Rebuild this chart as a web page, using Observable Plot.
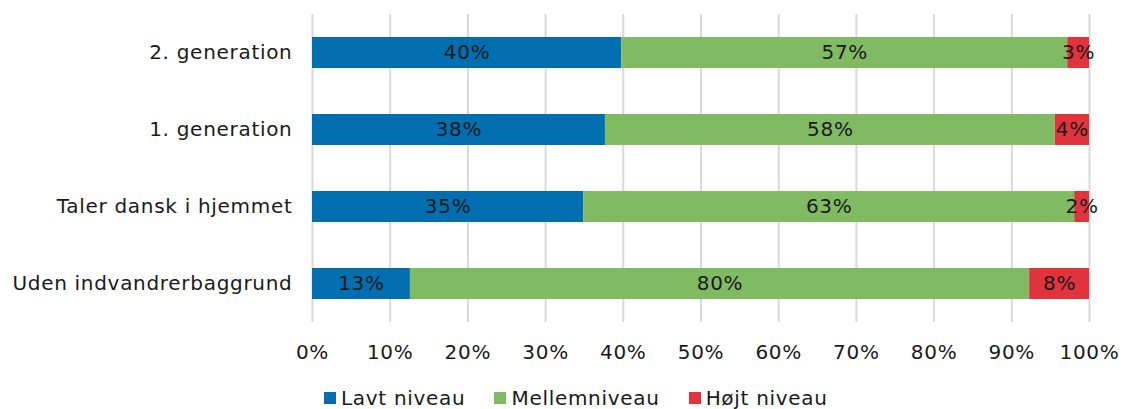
<!DOCTYPE html>
<html>
<head>
<meta charset="utf-8">
<script src="https://cdn.jsdelivr.net/npm/d3@7"></script>
<script src="https://cdn.jsdelivr.net/npm/@observablehq/plot@0.6"></script>
<style>
  html, body { margin: 0; padding: 0; background: #fff; overflow: hidden; }
  body { width: 1123px; height: 409px; font-family: "DejaVu Sans", Verdana, sans-serif; }
  #chart svg text { letter-spacing: 0.7px; }
  #legend { display: flex; margin-left: 324px; margin-top: 6px; font-size: 20px; color: #1a1a1a; line-height: 24px; letter-spacing: 0.7px; }
  #legend .item { display: flex; align-items: center; margin-right: 29px; }
  #legend .sw { width: 12px; height: 12px; margin-right: 5px; }
</style>
</head>
<body>
<div id="chart"></div>
<div id="legend"></div>
<script>
const categories = ["2. generation", "1. generation", "Taler dansk i hjemmet", "Uden indvandrerbaggrund"];
const seriesNames = ["Lavt niveau", "Mellemniveau", "Højt niveau"];
const lavt = [39.8, 37.7, 34.9, 12.6];
const mellem = [57.4, 57.9, 63.2, 79.7];
const hoejt = [2.8, 4.4, 1.9, 7.7];
const xTicks = [0, 10, 20, 30, 40, 50, 60, 70, 80, 90, 100];
const colors = ["#006EAF", "#80BA63", "#E0333C"];

const seriesValues = [lavt, mellem, hoejt];
const data = [];
seriesNames.forEach((s, si) => {
  categories.forEach((c, ci) => {
    data.push({cat: c, series: s, value: seriesValues[si][ci] / 100});
  });
});

const chart = Plot.plot({
  width: 1123,
  height: 380,
  marginLeft: 312,
  marginRight: 34,
  marginTop: 14,
  marginBottom: 58,
  style: {fontFamily: "DejaVu Sans, Verdana, sans-serif", fontSize: "20px", color: "#1a1a1a", background: "#fff"},
  x: {domain: [0, 1], ticks: xTicks.map(d => d / 100), tickFormat: d => Math.round(d * 100) + "%", tickSize: 0, tickPadding: 22, label: null},
  y: {domain: categories, paddingInner: 0.6, paddingOuter: 0.3, tickSize: 0, tickPadding: 20, label: null},
  color: {domain: seriesNames, range: colors},
  marks: [
    Plot.gridX({ticks: xTicks.map(d => d / 100), stroke: "#d9d9d9", strokeOpacity: 1, strokeWidth: 2}),
    Plot.barX(data, Plot.stackX({x: "value", y: "cat", fill: "series", order: null})),
    Plot.text(data, Plot.stackX({x: "value", y: "cat", z: "series", order: null, text: d => Math.round(d.value * 100) + "%", fill: "#1a1a1a", fontSize: 20}))
  ]
});
document.getElementById("chart").appendChild(chart);

const legend = document.getElementById("legend");
seriesNames.forEach((s, i) => {
  const item = document.createElement("div");
  item.className = "item";
  const sw = document.createElement("span");
  sw.className = "sw";
  sw.style.background = colors[i];
  const t = document.createElement("span");
  t.textContent = s;
  item.appendChild(sw);
  item.appendChild(t);
  legend.appendChild(item);
});
</script>
</body>
</html>
